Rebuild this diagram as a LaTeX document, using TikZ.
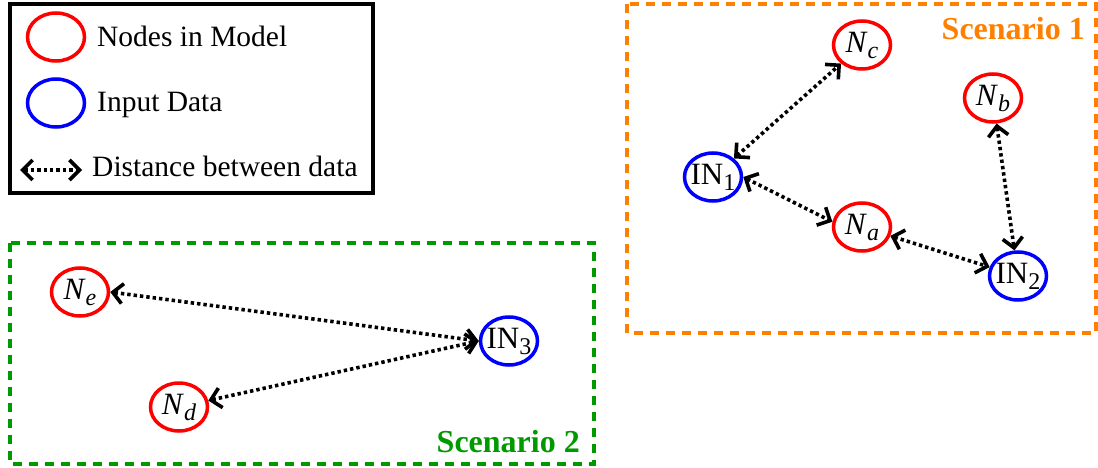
\documentclass[tikz,border=0pt]{standalone}
\usepackage{fontspec}
\setmainfont{Liberation Serif}
\usetikzlibrary{arrows.meta,shapes.geometric}
\definecolor{scenA}{RGB}{255,128,0}
\definecolor{scenB}{RGB}{0,153,0}
\newcommand\nodefont{\fontsize{31}{31}\selectfont}
\newcommand\subfont{\fontsize{24}{24}\selectfont}
\newcommand\Nsub[1]{\textit{N}\raisebox{-6pt}{\subfont\textit{#1}}}
\newcommand\INsub[1]{IN\raisebox{-6pt}{\subfont #1}}
\begin{document}
\begin{tikzpicture}[x=1pt,y=-1pt,
  oval/.style={ellipse, line width=3.5pt, minimum width=57pt, minimum height=48pt, inner sep=0pt},
  model/.style={oval, draw=red},
  datain/.style={oval, draw=blue},
  barb/.tip={Straight Barb[length=10pt,width=20pt]},
  dist/.style={line width=3.6pt, dash pattern=on 3.4pt off 3pt, barb-barb},
  frame/.style={line width=3.2pt, dash pattern=on 9pt off 7pt},
  scen/.style={font=\fontsize{32}{32}\selectfont\bfseries, anchor=base east, inner sep=0pt},
  lbl/.style={font=\fontsize{29.5}{30}\selectfont, anchor=base west, inner sep=0pt}]
\useasboundingbox (0,0) rectangle (1098,468);

% legend
\draw[line width=3.5pt] (10,4) rectangle (373,193);
\node[model] (lgm) at (56,37) {};
\node[datain] (lgd) at (56,103) {};
\node[lbl] (lgmt) at (97,47) {Nodes in Model};
\node[lbl] (lgdt) at (97,112) {Input Data};
\coordinate (lga) at (20,170);
\coordinate (lgb) at (82,170);
\draw[dist] (lga) -- (lgb);
\node[lbl] (lgat) at (92,177) {Distance between data};

% scenario 1
\draw[frame, draw=scenA] (627,4) rectangle (1096,333);
\node[scen, text=scenA] (s1) at (1085,40) {Scenario 1};
\node[model, label={[font=\nodefont]center:\Nsub{c}}] (nc) at (862,45) {};
\node[model, label={[font=\nodefont]center:\Nsub{b}}] (nb) at (993,98) {};
\node[datain, label={[font=\nodefont]center:\INsub{1}}] (in1) at (713,177) {};
\node[model, label={[font=\nodefont]center:\Nsub{a}}] (na) at (862,227) {};
\node[datain, label={[font=\nodefont]center:\INsub{2}}] (in2) at (1018,276) {};
\draw[dist] (in1) -- (nc);
\draw[dist] (in1.east) -- (na.170);
\draw[dist] (na) -- (in2);
\draw[dist] (nb) -- (in2);

% scenario 2
\draw[frame, draw=scenB] (10,243) rectangle (594,464);
\node[scen, text=scenB] (s2) at (580,452) {Scenario 2};
\node[model, label={[font=\nodefont]center:\Nsub{e}}] (ne) at (80,292) {};
\node[model, label={[font=\nodefont]center:\Nsub{d}}] (nd) at (179,407) {};
\node[datain, label={[font=\nodefont]center:\INsub{3}}] (in3) at (509,341) {};
\draw[dist] (ne.east) -- (in3.west);
\draw[dist] (nd) -- (in3.west);
\end{tikzpicture}
\end{document}
